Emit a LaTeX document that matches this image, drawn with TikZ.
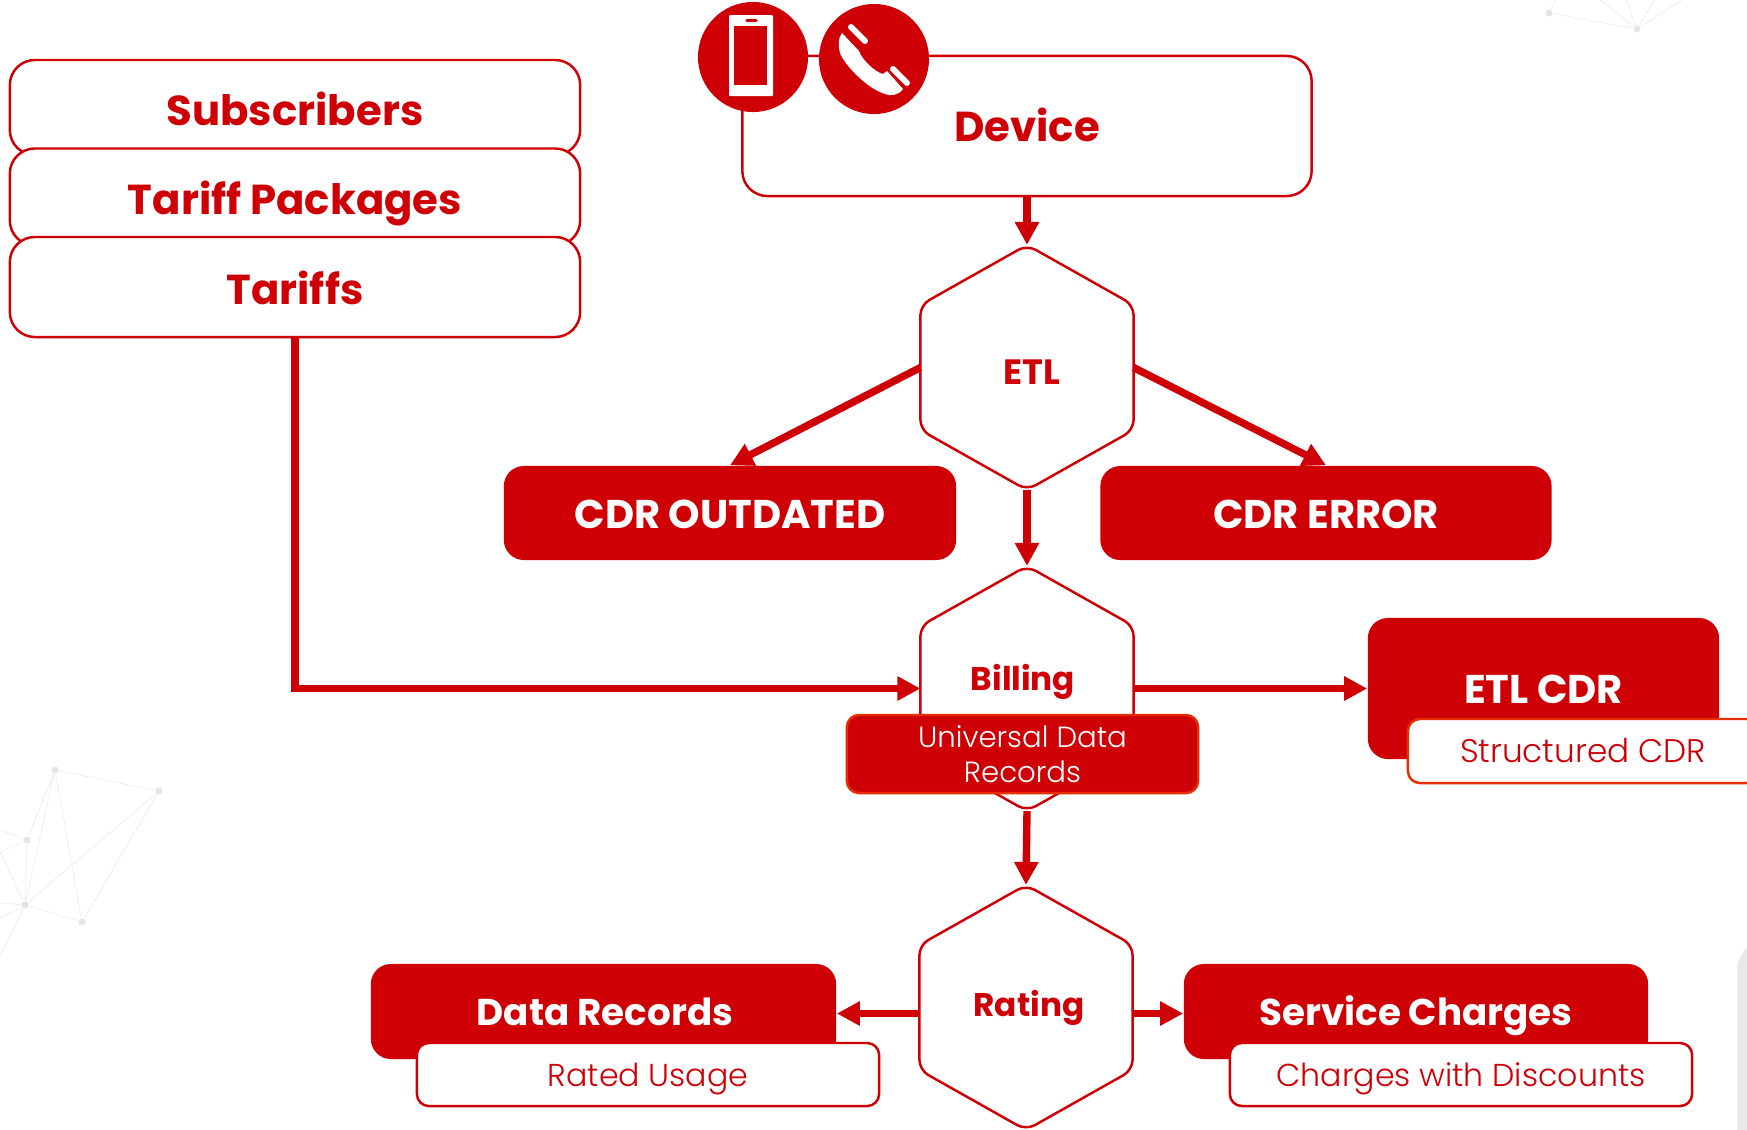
\documentclass[tikz,border=0pt]{standalone}
\usepackage{fontspec}
\setmainfont{Poppins Light}[BoldFont={Poppins Bold}]
\usetikzlibrary{arrows.meta}

\definecolor{cdrred}{HTML}{CE0006}
\definecolor{edgered}{HTML}{E62E00}
\definecolor{netgrey}{HTML}{E4E4E4}

\tikzset{
    outlinebox/.style={draw=cdrred,line width=0.7pt,fill=white,rounded corners=0.25cm,text=cdrred,text height=10pt,text depth=0pt,
        font=\fontsize{11.9}{15}\selectfont\bfseries},
    solidbox/.style={fill=cdrred,rounded corners=0.2cm,text=white,text height=8.8pt,text depth=0pt,
        font=\fontsize{11.4}{15}\selectfont\bfseries},
    subbox/.style={draw=edgered,line width=0.7pt,fill=white,rounded corners=0.12cm,text=cdrred,text height=6.6pt,text depth=0pt,
        font=\fontsize{9}{12}\selectfont},
    hexbox/.style={minimum width=2.13cm,minimum height=2.45cm,inner sep=0pt,outer sep=0pt},
    hexline/.style={draw=cdrred,line width=0.7pt,fill=white,rounded corners=0.1cm},
    hextext/.style={text=cdrred,text height=6.8pt,text depth=0pt,font=\fontsize{9.3}{12}\selectfont\bfseries},
    whitetext/.style={text=white,text height=7.6pt,text depth=0pt,font=\fontsize{10.6}{15}\selectfont\bfseries},
    iconcirc/.style={circle,fill=cdrred,minimum size=1.1cm,inner sep=0pt},
    flow/.style={draw=cdrred,line width=2.1pt,-{Triangle[length=0.23cm,width=0.23cm]}},
    netline/.style={draw=netgrey!60,line width=0.25pt},
    netdot/.style={circle,fill=netgrey,inner sep=0pt,minimum size=0.07cm},
}

\newcommand{\hexshape}[1]{\draw[hexline] (#1.north) -- ([yshift=-0.6cm]#1.north east) -- ([yshift=0.6cm]#1.south east)
    -- (#1.south) -- ([yshift=0.6cm]#1.south west) -- ([yshift=-0.6cm]#1.north west) -- cycle;}

\begin{document}
\begin{tikzpicture}[x=0.01cm,y=-0.01cm]
    \clip (0,0) rectangle (1747,1129);

    % faint background
    \node[netdot] (n1) at (55,770) {};
    \node[netdot] (n2) at (159,791) {};
    \node[netdot] (n3) at (27,840) {};
    \node[netdot] (n4) at (25,905) {};
    \node[netdot] (n5) at (82,922) {};
    \coordinate (n6) at (0,830);
    \coordinate (n7) at (0,852);
    \coordinate (n8) at (0,903);
    \coordinate (n9) at (0,918);
    \coordinate (n10) at (0,955);
    \draw[netline] (n1) -- (n2) -- (n5) -- (n4) -- (n1) -- (n3) -- (n4) -- (n2);
    \draw[netline] (n1) -- (n5);
    \draw[netline] (n6) -- (n3) -- (n7);
    \draw[netline] (n7) -- (n4) -- (n8);
    \draw[netline] (n9) -- (n4) -- (n10);
    \node[netdot] (n11) at (1549,13) {};
    \node[netdot] (n12) at (1637,29) {};
    \coordinate (n13) at (1556,0);
    \coordinate (n14) at (1600,0);
    \coordinate (n15) at (1626,0);
    \coordinate (n16) at (1654,0);
    \coordinate (n17) at (1682,0);
    \draw[netline] (n13) -- (n11) -- (n12) -- (n14);
    \draw[netline] (n15) -- (n12) -- (n16);
    \draw[netline] (n17) -- (n12);
    \fill[netgrey!80,rounded corners=0.3cm] (1737,940) rectangle (1790,1180);

    % left stack
    \node[outlinebox,minimum width=5.7cm,minimum height=0.95cm] (subs) at (295,107.5) {Subscribers};
    \node[outlinebox,minimum width=5.7cm,minimum height=0.97cm] (tpack) at (295,197) {Tariff Packages};
    \node[outlinebox,minimum width=5.7cm,minimum height=1cm] (tariffs) at (295,287) {Tariffs};

    % device
    \node[outlinebox,text height=9pt,minimum width=5.69cm,minimum height=1.4cm] (device) at (1027,126) {Device};
    \node[iconcirc] (phone) at (753,57) {};
    \node[iconcirc] (call) at (874,59) {};
    \fill[white,rounded corners=0.01cm] (729,15) rectangle (773,96);
    \fill[cdrred] (734,26) rectangle (767,85);
    \draw[cdrred,line width=1pt,line cap=round] (747,20.7) -- (756,20.7);
    \fill[white] (842,33) -- (859,51) .. controls (862,60) and (875,72) .. (883,74) -- (887,71) -- (903,89)
        .. controls (898,96) and (890,96) .. (885,94) .. controls (866,88) and (844,64) .. (840,53)
        .. controls (838,46) and (838,38) .. (842,33) -- cycle;
    \draw[white,line width=1.7pt,line cap=round] (851,27) -- (865,41);
    \draw[white,line width=1.7pt,line cap=round] (893,69) -- (907,83);

    % hexagons
    \node[hexbox] (etl) at (1027,367.5) {};
    \node[hexbox] (billing) at (1027,688.5) {};
    \node[hexbox] (rating) at (1026,1007.5) {};
    \hexshape{etl}
    \hexshape{billing}
    \hexshape{rating}
    \node[hextext,font=\fontsize{10}{12}\selectfont\bfseries] (etltxt) at (1032,373) {ETL};
    \node[hextext] (billtxt) at (1023,679) {Billing};
    \node[hextext] (ratetxt) at (1029,1005) {Rating};

    % solid boxes
    \node[solidbox,minimum width=4.52cm,minimum height=0.94cm] (cdrout) at (730,513) {CDR OUTDATED};
    \node[solidbox,minimum width=4.51cm,minimum height=0.94cm] (cdrerr) at (1326,513) {CDR ERROR};
    \node[solidbox,minimum width=3.51cm,minimum height=1.41cm] (etlcdr) at (1543.5,688.5) {ETL CDR};
    \node[solidbox,minimum width=4.65cm,minimum height=0.95cm] (datarec) at (603.5,1011.5) {};
    \node[solidbox,minimum width=4.64cm,minimum height=0.95cm] (svc) at (1416,1011.5) {};
    \node[whitetext] (datatxt) at (605,1012) {Data Records};
    \node[whitetext] (svctxt) at (1416,1012) {Service Charges};

    % sub boxes
    \node[subbox,draw=cdrred,minimum width=4.62cm,minimum height=0.63cm] (rated) at (648,1074.5) {Rated Usage};
    \node[subbox,draw=cdrred,minimum width=4.62cm,minimum height=0.63cm] (charges) at (1461,1074.5) {Charges with Discounts};
    \node[subbox,font=\fontsize{9.3}{12}\selectfont,minimum width=3.5cm,minimum height=0.64cm] (struct) at (1583,751) {Structured CDR};
    \node[subbox,fill=cdrred,text=white,align=center,minimum width=3.51cm,minimum height=0.78cm,inner sep=0pt,
        text height=,text depth=,font=\fontsize{8.3}{10}\selectfont] (udr) at (1022.5,754) {Universal Data\\Records};

    % flows
    \draw[flow] (device) -- (etl);
    \draw[flow] (etl.west) -- (cdrout.north);
    \draw[flow] (etl.east) -- (cdrerr.north);
    \draw[flow] (etl) -- (billing);
    \draw[flow] (tariffs.south) |- (billing.west);
    \draw[flow] (billing.east) -- (etlcdr.west);
    \draw[flow] (billing.south) -- (rating.north);
    \draw[flow] ([yshift=-0.02cm]rating.west |- datarec.east) -- ([yshift=-0.02cm]datarec.east);
    \draw[flow] ([yshift=-0.02cm]rating.east |- svc.west) -- ([yshift=-0.02cm]svc.west);
\end{tikzpicture}
\end{document}
